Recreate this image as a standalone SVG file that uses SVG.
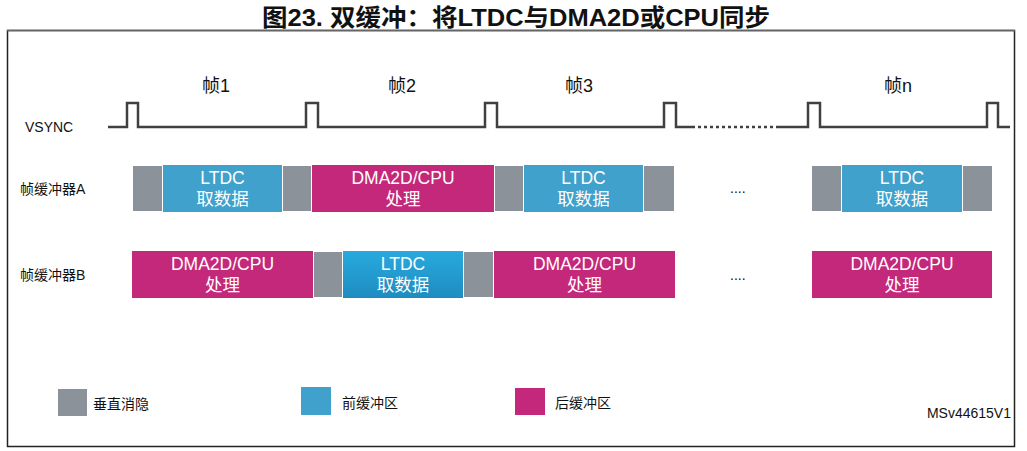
<svg xmlns="http://www.w3.org/2000/svg" width="1027" height="451" viewBox="0 0 1027 451">
<defs>
<linearGradient id="gB" x1="0" y1="0" x2="0" y2="1">
<stop offset="0" stop-color="#27aadf"/>
<stop offset="1" stop-color="#1f8cbf"/>
</linearGradient>
</defs>
<style>
text{font-family:"Liberation Sans","Noto Sans CJK SC",sans-serif;}
.g{fill:#8b929a;}
.b{fill:#40a1cc;}
.m{fill:#c4287a;}
.wt{fill:#fff;font-size:17.5px;text-anchor:middle;}
.lb{fill:#111;font-size:14px;}
.fr{fill:#111;font-size:18px;text-anchor:middle;}
.sig{fill:none;stroke:#404040;stroke-width:2.5;}
</style>
<rect width="1027" height="451" fill="#fff"/>
<text x="516" y="26" font-size="24" font-weight="bold" text-anchor="middle" fill="#111" textLength="508" lengthAdjust="spacingAndGlyphs">图23. 双缓冲：将LTDC与DMA2D或CPU同步</text>
<rect x="7.5" y="30.5" width="1007" height="416" fill="none" stroke="#222" stroke-width="1.5"/>
<line x1="7" y1="30.5" x2="1015" y2="30.5" stroke="#666" stroke-width="1.5"/>

<g id="frames">
<text class="fr" x="216" y="92">帧1</text>
<text class="fr" x="402" y="92">帧2</text>
<text class="fr" x="579" y="92">帧3</text>
<text class="fr" x="898" y="92">帧n</text>
</g>

<g id="vsync">
<text class="lb" x="25" y="132" font-size="13">VSYNC</text>
<path class="sig" d="M108 127 H127 V103 H138 V127 H306 V103 H318 V127 H485 V103 H497 V127 H664 V103 H676 V127 H692"/>
<path class="sig" d="M692 127 H778" stroke-dasharray="3,3" stroke-width="2.5"/>
<path class="sig" d="M778 127 H808 V103 H820 V127 H987 V103 H998 V127 H1010"/>
</g>

<g id="bufferA">
<text class="lb" x="20" y="194">帧缓冲器A</text>
<rect class="g" x="133" y="166" width="29" height="45"/>
<rect class="b" x="163" y="165" width="119" height="47"/>
<text class="wt" x="222.5" y="184">LTDC</text>
<text class="wt" x="222.5" y="205">取数据</text>
<rect class="g" x="283" y="166" width="28" height="45"/>
<rect class="m" x="312" y="165" width="182" height="47"/>
<text class="wt" x="403" y="184">DMA2D/CPU</text>
<text class="wt" x="403" y="205">处理</text>
<rect class="g" x="495" y="166" width="28" height="45"/>
<rect class="b" x="524" y="165" width="119" height="47"/>
<text class="wt" x="583.5" y="184">LTDC</text>
<text class="wt" x="583.5" y="205">取数据</text>
<rect class="g" x="644" y="166" width="30" height="45"/>
<text class="lb" x="730" y="193">....</text>
<rect class="g" x="812" y="166" width="29" height="45"/>
<rect class="b" x="842" y="165" width="120" height="47"/>
<text class="wt" x="902" y="184">LTDC</text>
<text class="wt" x="902" y="205">取数据</text>
<rect class="g" x="963" y="166" width="29" height="45"/>
</g>

<g id="bufferB">
<text class="lb" x="20" y="280">帧缓冲器B</text>
<rect class="m" x="132" y="251" width="181" height="47"/>
<text class="wt" x="222.5" y="270">DMA2D/CPU</text>
<text class="wt" x="222.5" y="291">处理</text>
<rect class="g" x="314" y="252" width="28" height="45"/>
<rect x="343" y="251" width="120" height="47" fill="url(#gB)"/>
<text class="wt" x="403" y="270">LTDC</text>
<text class="wt" x="403" y="291">取数据</text>
<rect class="g" x="464" y="252" width="29" height="45"/>
<rect class="m" x="494" y="251" width="181" height="47"/>
<text class="wt" x="584.5" y="270">DMA2D/CPU</text>
<text class="wt" x="584.5" y="291">处理</text>
<text class="lb" x="730" y="280">....</text>
<rect class="m" x="812" y="251" width="180" height="47"/>
<text class="wt" x="902" y="270">DMA2D/CPU</text>
<text class="wt" x="902" y="291">处理</text>
</g>

<g id="legend">
<rect class="g" x="58" y="389" width="29" height="27"/>
<text class="lb" x="93" y="409">垂直消隐</text>
<rect class="b" x="301" y="387" width="30" height="28"/>
<text class="lb" x="342" y="408">前缓冲区</text>
<rect class="m" x="515" y="388" width="30" height="27"/>
<text class="lb" x="555" y="408">后缓冲区</text>
</g>
<text x="1011" y="418" font-size="14" text-anchor="end" fill="#111">MSv44615V1</text>
</svg>
